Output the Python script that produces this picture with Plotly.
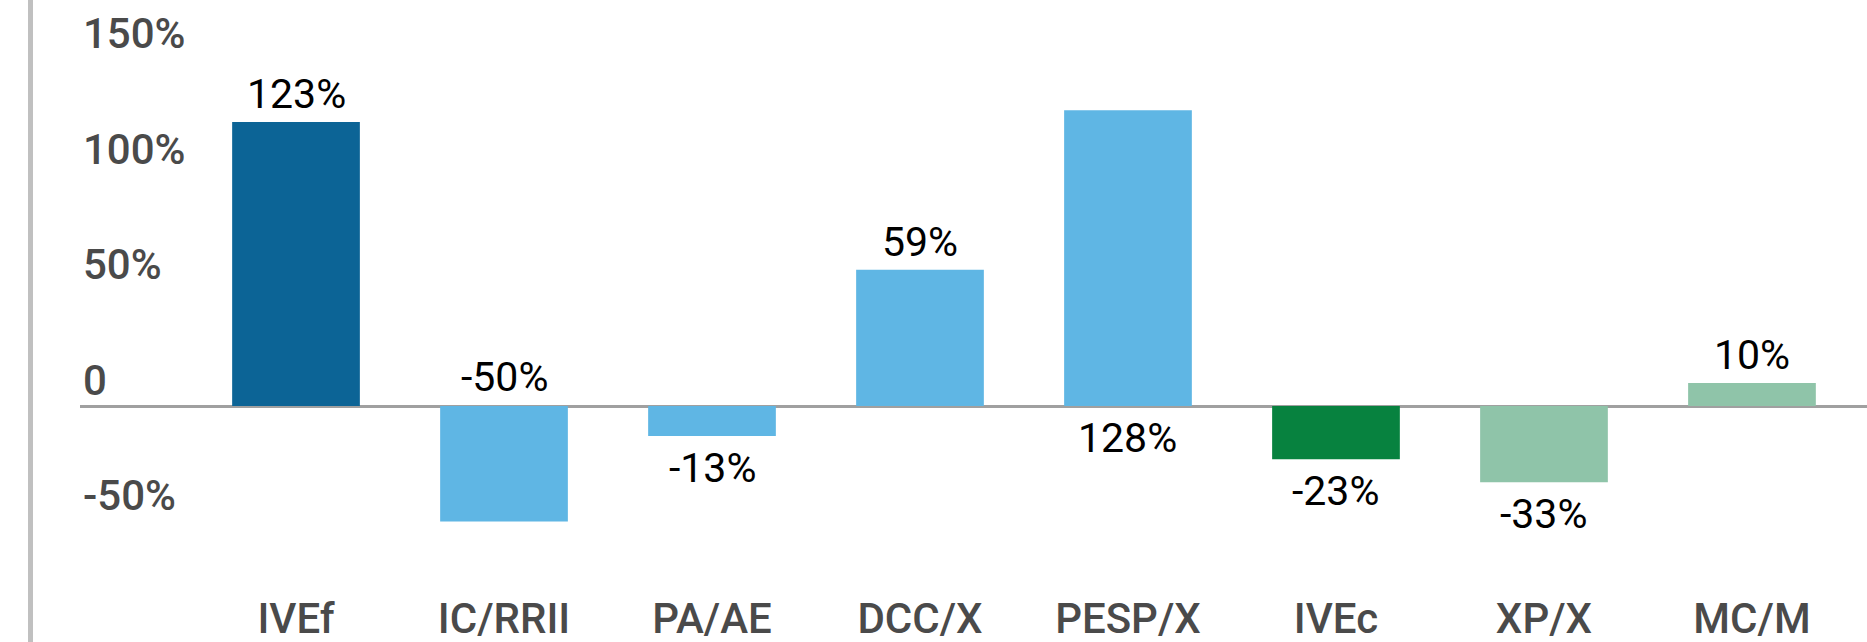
import plotly.graph_objects as go

categories = ["IVEf", "IC/RRII", "PA/AE", "DCC/X", "PESP/X", "IVEc", "XP/X", "MC/M"]
values = [123, -50, -13, 59, 128, -23, -33, 10]
value_labels = ["123%", "-50%", "-13%", "59%", "128%", "-23%", "-33%", "10%"]
# where each value label sits: "end" = beyond bar end, "base" = on opposite side of zero line
label_side = ["end", "base", "end", "end", "base", "end", "end", "end"]
bar_colors = ["#0c6496", "#5fb6e4", "#5fb6e4", "#5fb6e4", "#5fb6e4", "#07823f", "#8fc4a9", "#8fc4a9"]
tick_vals = [-50, 0, 50, 100, 150]
tick_text = ["-50%", "0", "50%", "100%", "150%"]

FONT = "Roboto"

fig = go.Figure()
fig.add_trace(go.Bar(
    x=list(range(len(categories))),
    y=values,
    marker=dict(color=bar_colors, line=dict(width=0)),
    width=0.614,
    hoverinfo="skip",
))

for i, (v, t, side) in enumerate(zip(values, value_labels, label_side)):
    if side == "end":
        yv = v
        shift = 28 if v >= 0 else -32
    else:
        yv = 0
        shift = 29 if v < 0 else -32
    fig.add_annotation(
        x=i, y=yv, text=t, showarrow=False, yanchor="middle", xanchor="center",
        yshift=shift, font=dict(family=FONT, size=41, color="#000000", weight=400),
    )

# left vertical rule
fig.add_shape(type="line", xref="paper", yref="paper",
              x0=-0.0277, x1=-0.0277, y0=-0.2, y1=1.2,
              line=dict(color="#c0c0c0", width=5))

fig.update_layout(
    width=1867, height=642,
    margin=dict(l=80, r=0, t=0, b=52),
    paper_bgcolor="white", plot_bgcolor="white",
    showlegend=False,
)
fig.update_xaxes(
    range=[-1.0385, 7.553],
    tickmode="array", tickvals=list(range(len(categories))), ticktext=categories,
    showgrid=False, zeroline=False, showline=False, ticks="",
    tickfont=dict(family=FONT, size=42, color="#4a4a4a", weight=500),
)
fig.update_yaxes(
    range=[-79.65, 175.76],
    tickmode="array", tickvals=tick_vals, ticktext=tick_text,
    showgrid=False, zeroline=True, zerolinecolor="#a0a0a0", zerolinewidth=3,
    showline=False, ticks="",
    ticklabelposition="inside", ticklabelshift=-26, ticklabelstandoff=0,
    tickfont=dict(family=FONT, size=42, color="#4a4a4a", weight=500),
)

fig.write_html("out.html", config={"displayModeBar": False},
               post_script="document.body.style.margin='0';document.documentElement.style.overflow='hidden';")
